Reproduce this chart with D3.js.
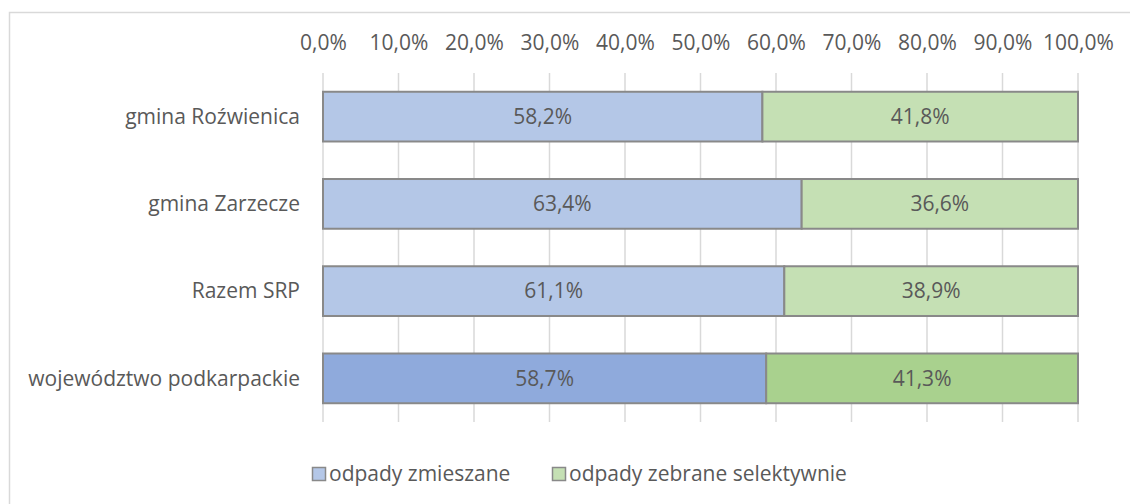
<!DOCTYPE html>
<html>
<head>
<meta charset="utf-8">
<script src="https://cdn.jsdelivr.net/npm/d3@7"></script>
<style>
  body { margin: 0; background: #fff; }
  svg text { font-family: "Open Sans", sans-serif; fill: #595959; }
</style>
</head>
<body>
<div class="chart"></div>
<script>
var categories = ["gmina Roźwienica", "gmina Zarzecze", "Razem SRP", "województwo podkarpackie"];
var mixed = [58.2, 63.4, 61.1, 58.7];
var selective = [41.8, 36.6, 38.9, 41.3];
var seriesNames = ["odpady zmieszane", "odpady zebrane selektywnie"];
var tickValues = [0, 10, 20, 30, 40, 50, 60, 70, 80, 90, 100];

var svgWidth = 1130;
var svgHeight = 504;
var margin = { top: 73, left: 323, right: 52, bottom: 82 };
var width = 1078 - margin.left;
var height = 422 - margin.top;
var fontSize = 21;

var lightFill = ["#b4c7e7", "#c5e0b4"];
var darkFill = ["#8faadc", "#a9d18e"];

var svg = d3.select(".chart")
  .append("svg")
  .attr("width", svgWidth)
  .attr("height", svgHeight);

// chart frame
svg.append("rect")
  .attr("x", 9.5).attr("y", 12.5)
  .attr("width", 1140).attr("height", 520)
  .attr("fill", "none")
  .attr("stroke", "#d9d9d9")
  .attr("stroke-width", 1.5);

var chartGroup = svg.append("g")
  .attr("transform", `translate(${margin.left}, ${margin.top})`);

var xScale = d3.scaleLinear().domain([0, 100]).range([0, width]);
var yScale = d3.scaleBand().domain(categories).range([0, height]).paddingInner(0.43).paddingOuter(0.215);

var fmt = v => d3.format(".1f")(v).replace(".", ",") + "%";

// gridlines
chartGroup.selectAll(".grid")
  .data(tickValues)
  .enter()
  .append("line")
  .attr("x1", d => xScale(d)).attr("x2", d => xScale(d))
  .attr("y1", 0).attr("y2", height)
  .attr("stroke", "#d9d9d9")
  .attr("stroke-width", 1.5);

// top axis
var topAxis = d3.axisTop(xScale).tickValues(tickValues).tickSize(0).tickPadding(0).tickFormat(fmt);
var axisG = chartGroup.append("g")
  .attr("transform", "translate(0, -23)")
  .call(topAxis);
axisG.select(".domain").remove();
axisG.selectAll("text").attr("font-size", fontSize).attr("fill", "#595959").attr("font-family", "Open Sans");

// category labels
chartGroup.selectAll(".cat")
  .data(categories)
  .enter()
  .append("text")
  .attr("x", -23)
  .attr("y", d => yScale(d) + yScale.bandwidth() / 2)
  .attr("dy", "0.35em")
  .attr("text-anchor", "end")
  .attr("font-size", fontSize)
  .text(d => d);

// stacked segments
var rows = categories.map((c, i) => ({ cat: c, i: i, vals: [mixed[i], selective[i]] }));
rows.forEach(function(r) {
  var start = 0;
  r.vals.forEach(function(v, s) {
    var fill = r.i === categories.length - 1 ? darkFill[s] : lightFill[s];
    chartGroup.append("rect")
      .attr("x", xScale(start))
      .attr("y", yScale(r.cat))
      .attr("width", xScale(start + v) - xScale(start))
      .attr("height", yScale.bandwidth())
      .attr("fill", fill)
      .attr("stroke", "#898989")
      .attr("stroke-width", 2);
    chartGroup.append("text")
      .attr("x", xScale(start + v / 2))
      .attr("y", yScale(r.cat) + yScale.bandwidth() / 2)
      .attr("dy", "0.35em")
      .attr("text-anchor", "middle")
      .attr("font-size", fontSize)
      .text(fmt(v));
    start += v;
  });
});

// legend
var legendX = [312, 552];
var legend = svg.selectAll(".legend")
  .data(seriesNames)
  .enter()
  .append("g")
  .attr("transform", (d, i) => `translate(${legendX[i]}, 467)`);
legend.append("rect")
  .attr("x", 0.5).attr("y", 0.5)
  .attr("width", 13).attr("height", 13)
  .attr("fill", (d, i) => lightFill[i])
  .attr("stroke", "#898989")
  .attr("stroke-width", 1.5);
legend.append("text")
  .attr("x", 17)
  .attr("y", 7)
  .attr("dy", "0.35em")
  .attr("font-size", fontSize)
  .text(d => d);
</script>
</body>
</html>
